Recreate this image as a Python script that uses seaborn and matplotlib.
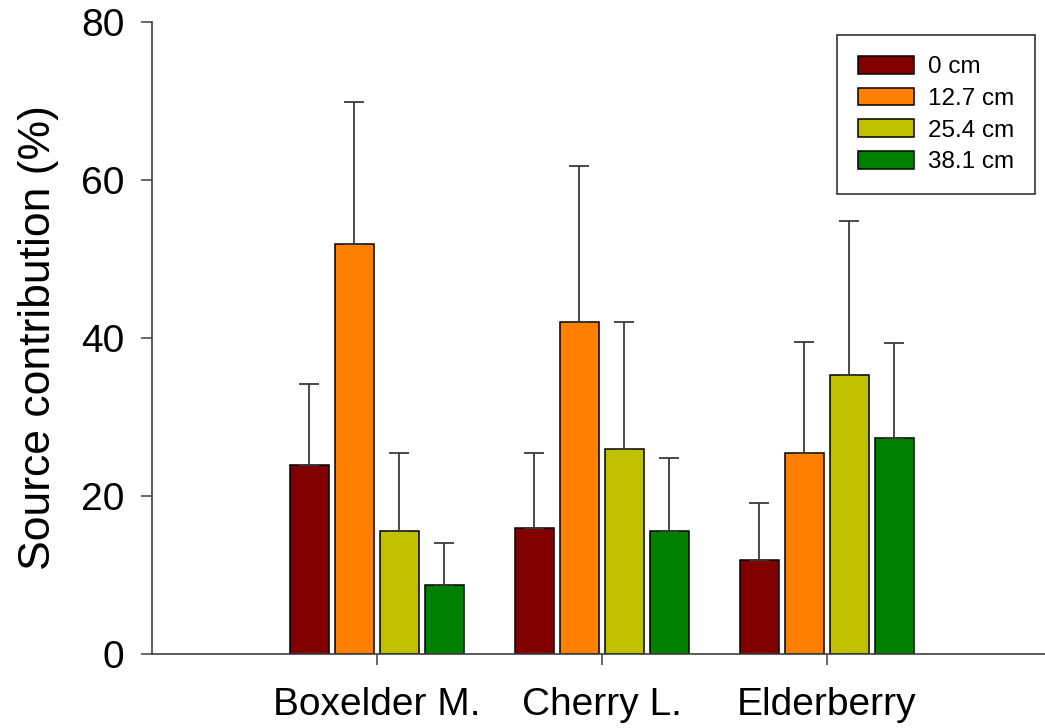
import matplotlib
matplotlib.use("Agg")
import matplotlib.pyplot as plt
import seaborn as sns
import pandas as pd
import numpy as np

species = ["Boxelder M.", "Cherry L.", "Elderberry"]
depths = ["0 cm", "12.7 cm", "25.4 cm", "38.1 cm"]
colors = ["#800000", "#FF8000", "#C0C000", "#008000"]

# mean values per depth (rows) for each species (columns)
mean_0 = [23.9, 16.0, 11.95]
mean_127 = [51.9, 42.0, 25.4]
mean_254 = [15.6, 26.0, 35.3]
mean_381 = [8.7, 15.6, 27.3]

# top of the (upper-only) error bars
top_0 = [34.2, 25.5, 19.1]
top_127 = [69.9, 61.8, 39.5]
top_254 = [25.4, 42.0, 54.8]
top_381 = [14.0, 24.8, 39.4]

means = [mean_0, mean_127, mean_254, mean_381]
tops = [top_0, top_127, top_254, top_381]

rows = []
for d, m in zip(depths, means):
    for s, v in zip(species, m):
        rows.append({"species": s, "depth": d, "value": v})
df = pd.DataFrame(rows)

sns.set_theme(style="ticks")
plt.rcParams["font.family"] = ["Liberation Sans", "DejaVu Sans"]
plt.rcParams["text.color"] = "black"
plt.rcParams["axes.labelcolor"] = "black"
plt.rcParams["xtick.labelcolor"] = "black"
plt.rcParams["ytick.labelcolor"] = "black"

fig = plt.figure(figsize=(10.45, 7.28), dpi=100)
ax = fig.add_axes([152 / 1045, 1 - 654 / 728, 1 - 152 / 1045, (654 - 22) / 728])

sns.barplot(data=df, x="species", y="value", hue="depth", order=species,
            hue_order=depths, palette=colors, width=0.8, gap=0.125,
            edgecolor="black", linewidth=1.1, errorbar=None, ax=ax,
            saturation=1)

for cont, m, t in zip(ax.containers, means, tops):
    xs = [p.get_x() + p.get_width() / 2 for p in cont.patches]
    hs = [p.get_height() for p in cont.patches]
    up = np.array(t) - np.array(m)
    ax.errorbar(xs, hs, yerr=[np.zeros(len(up)), up], fmt="none",
                ecolor="#3a3a3a", elinewidth=1.3, capsize=7.5, capthick=1.3,
                zorder=1)

ax.set_xlim(-1.0, 2.97)
ax.set_ylim(0, 80)
ax.set_yticks([0, 20, 40, 60, 80])
ax.set_xlabel("")
ax.set_ylabel("Source contribution (%)", fontsize=32, labelpad=16)
ax.tick_params(axis="both", labelsize=28, length=8, width=1.1,
               color="#404040", pad=12, direction="out")
ax.tick_params(axis="x", pad=16)
for sp in ["top", "right"]:
    ax.spines[sp].set_visible(False)
for sp in ["left", "bottom"]:
    ax.spines[sp].set_color("#404040")
    ax.spines[sp].set_linewidth(1.2)

leg = ax.legend(title=None, loc="upper right", bbox_to_anchor=(0.989, 0.979),
                borderaxespad=0, fontsize=17.5, frameon=True, fancybox=False,
                edgecolor="black", handlelength=2.3, handleheight=0.75,
                handletextpad=0.6, labelspacing=0.38, borderpad=0.85)
leg.get_frame().set_linewidth(1.2)

fig.savefig("out.png", dpi=100)
